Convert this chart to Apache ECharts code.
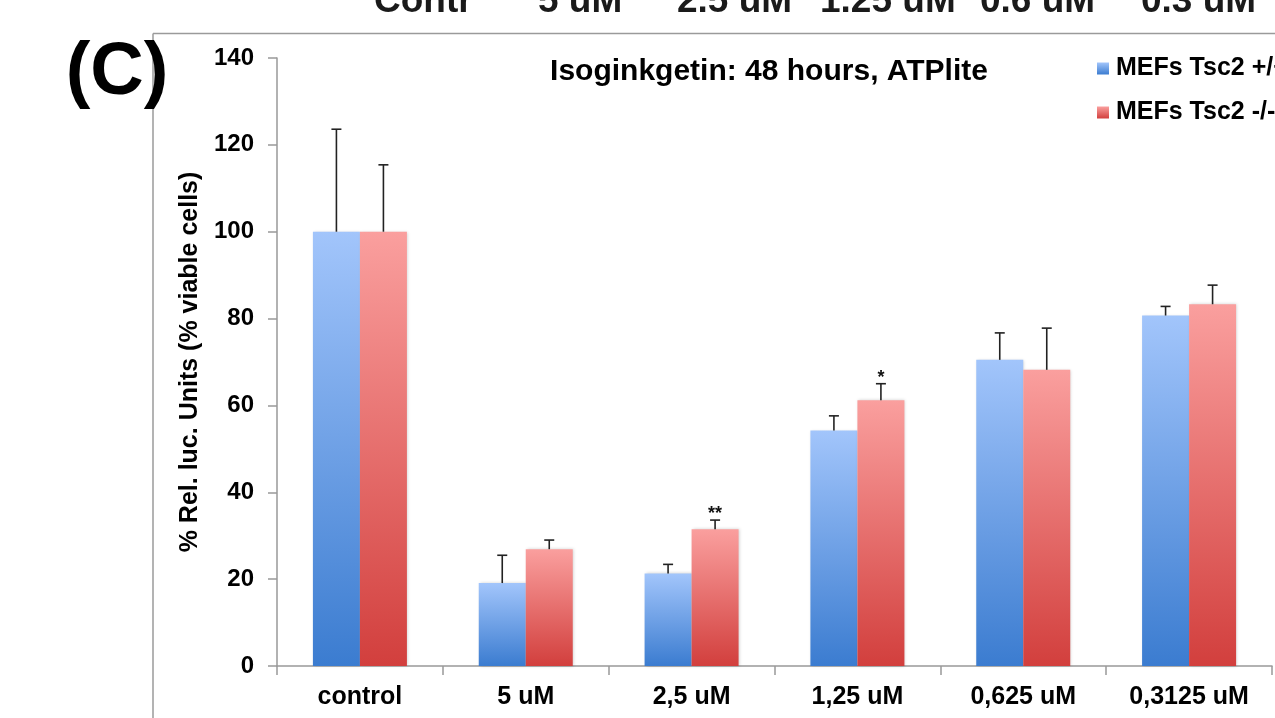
<!DOCTYPE html>
<html>
<head>
<meta charset="utf-8">
<script src="https://cdn.jsdelivr.net/npm/echarts@6/dist/echarts.min.js"></script>
<style>
html,body{margin:0;padding:0;background:#fff;}
#c{width:1275px;height:718px;}
</style>
</head>
<body>
<div id="c"></div>
<script>
var categories = ['control', '5 uM', '2,5 uM', '1,25 uM', '0,625 uM', '0,3125 uM'];
var seriesNames = ['MEFs Tsc2 +/+', 'MEFs Tsc2 -/-'];
var wtValues = [100, 19.1, 21.3, 54.2, 70.5, 80.7];
var koValues = [100, 26.9, 31.5, 61.2, 68.2, 83.3];
var wtErr = [23.6, 6.4, 2.1, 3.4, 6.2, 2.1];
var koErr = [15.4, 2.1, 2.1, 3.8, 9.6, 4.4];
var koSig = ['', '', '**', '*', '', ''];
var yTicks = [0, 20, 40, 60, 80, 100, 120, 140];
var topLabels = ['Contr', '5 uM', '2.5 uM', '1.25 uM', '0.6 uM', '0.3 uM'];
var topLabelX = [374, 538, 677, 820, 980, 1141];

var FONT = 'Liberation Sans, Arial, sans-serif';
var BAR_W = 47;

function grad(top, bottom) {
  return new echarts.graphic.LinearGradient(0, 0, 0, 1, [
    {offset: 0, color: top}, {offset: 1, color: bottom}
  ]);
}

function errSeries(name, values, errs, offset, sig) {
  var data = values.map(function (v, i) { return [i, v, v + errs[i], sig ? sig[i] : '']; });
  return {
    type: 'custom',
    name: name + ' err',
    silent: true,
    z: 5,
    data: data,
    encode: {x: 0, y: [1, 2]},
    renderItem: function (params, api) {
      var i = api.value(0);
      var base = api.coord([i, api.value(1)]);
      var top = api.coord([i, api.value(2)]);
      var x = base[0] + offset;
      var children = [
        {type: 'line', shape: {x1: x, y1: base[1], x2: x, y2: top[1]}, style: {stroke: '#222', lineWidth: 1.6}},
        {type: 'line', shape: {x1: x - 5, y1: top[1], x2: x + 5, y2: top[1]}, style: {stroke: '#222', lineWidth: 1.6}}
      ];
      var s = data[params.dataIndex][3];
      if (s) {
        children.push({type: 'text', x: x, y: top[1] + 3, style: {text: s, fill: '#111', font: 'bold 18px ' + FONT, align: 'center', verticalAlign: 'bottom'}});
      }
      return {type: 'group', children: children};
    }
  };
}

var graphics = [
  {type: 'line', shape: {x1: 153, y1: 33.5, x2: 1275, y2: 33.5}, style: {stroke: '#9a9a9a', lineWidth: 1.5}},
  {type: 'line', shape: {x1: 153, y1: 33.5, x2: 153, y2: 718}, style: {stroke: '#9a9a9a', lineWidth: 1.5}},
  {type: 'text', x: 117, y: 74, style: {text: '(C)', font: 'bold 74px ' + FONT, fill: '#000', align: 'center', verticalAlign: 'middle'}}
];
topLabels.forEach(function (t, i) {
  graphics.push({type: 'text', x: topLabelX[i], y: 20, style: {text: t, font: 'bold 37px ' + FONT, fill: '#1a1a1a', align: 'left', verticalAlign: 'bottom'}});
});

var chart = echarts.init(document.getElementById('c'), null, {renderer: 'canvas'});
chart.setOption({
  animation: false,
  backgroundColor: '#fff',
  title: {
    text: 'Isoginkgetin: 48 hours, ATPlite',
    left: 764, top: 52, textAlign: 'center',
    textStyle: {fontFamily: FONT, fontWeight: 'bold', fontSize: 30, color: '#000'}
  },
  legend: {
    orient: 'vertical',
    left: 1092, top: 51,
    itemWidth: 12, itemHeight: 12, itemGap: 19,
    icon: 'rect',
    data: seriesNames,
    textStyle: {fontFamily: FONT, fontWeight: 'bold', fontSize: 25, color: '#000', padding: [0, 0, 0, 2]}
  },
  graphic: graphics,
  grid: {left: 277, right: 3, top: 58, bottom: 52, containLabel: false},
  xAxis: {
    type: 'category',
    data: categories,
    axisLine: {show: true, lineStyle: {color: '#999', width: 1.5}},
    axisTick: {show: true, length: 9, alignWithLabel: false, lineStyle: {color: '#999', width: 1.5}},
    axisLabel: {fontFamily: FONT, fontWeight: 'bold', fontSize: 25, color: '#000', margin: 19, interval: 0}
  },
  yAxis: {
    type: 'value',
    min: 0, max: 140, interval: 20,
    name: '% Rel. luc. Units (% viable cells)',
    nameLocation: 'middle',
    nameGap: 69,
    nameRotate: 90,
    nameTextStyle: {fontFamily: FONT, fontWeight: 'bold', fontSize: 25, color: '#000'},
    axisLine: {show: true, lineStyle: {color: '#999', width: 1.5}},
    axisTick: {show: true, length: 9, lineStyle: {color: '#999', width: 1.5}},
    splitLine: {show: false},
    axisLabel: {
      fontFamily: FONT, fontWeight: 'bold', fontSize: 24, color: '#000', margin: 23,
      formatter: function (v) { return yTicks.indexOf(v) >= 0 ? String(v) : ''; }
    }
  },
  series: [
    {
      name: seriesNames[0], type: 'bar', data: wtValues, barWidth: BAR_W, barGap: '0%',
      itemStyle: {color: grad('#a2c5fb', '#3b7cd0'), shadowBlur: 3, shadowColor: 'rgba(0,0,0,0.18)', shadowOffsetX: 1, shadowOffsetY: 0}
    },
    {
      name: seriesNames[1], type: 'bar', data: koValues, barWidth: BAR_W, barGap: '0%',
      itemStyle: {color: grad('#fa9f9e', '#d23f3d'), shadowBlur: 3, shadowColor: 'rgba(0,0,0,0.18)', shadowOffsetX: 1, shadowOffsetY: 0}
    },
    errSeries(seriesNames[0], wtValues, wtErr, -BAR_W / 2, null),
    errSeries(seriesNames[1], koValues, koErr, BAR_W / 2, koSig)
  ]
});
</script>
</body>
</html>
